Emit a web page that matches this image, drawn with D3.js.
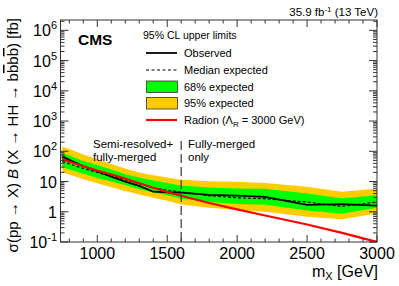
<!DOCTYPE html>
<html><head><meta charset="utf-8">
<script src="https://cdn.jsdelivr.net/npm/d3@7"></script>
<style>
body{margin:0;background:#fff;}
svg{font-family:"Liberation Sans",Arial,Helvetica,sans-serif;}
</style></head>
<body><svg id="c" width="399" height="286"></svg>
<script>
const mass     = [750, 800, 900, 1000, 1100, 1200, 1300, 1400, 1500, 1600, 1800, 2000, 2200, 2500, 2750, 3000];
const observed = [68, 52, 32, 22, 14.5, 10, 7.2, 4.6, 4.4, 4.3, 3.6, 3.4, 3.1, 1.7, 1.8, 1.6];
const expected = [46, 38, 27, 20, 15, 11.5, 8.5, 6.2, 5.2, 4.5, 3.4, 2.9, 2.7, 2.1, 1.5, 2.1];
const band68Up = [88, 72, 48, 35, 25, 17.5, 13.5, 10.8, 9, 7.4, 6.3, 5.9, 5.8, 4.0, 2.8, 3.5];
const band68Dn = [30, 25, 18, 13, 10, 7.6, 5.6, 4.4, 3.5, 2.7, 2.1, 1.8, 1.7, 1.1, 0.86, 1.35];
const band95Up = [145, 118, 78, 55, 38, 27, 20, 16, 13.5, 11.5, 10.3, 9.8, 9.0, 6.7, 4.6, 5.9];
const band95Dn = [20, 17, 12, 8.7, 6.5, 4.9, 3.7, 2.9, 2.3, 1.75, 1.35, 1.14, 1.0, 0.68, 0.57, 0.88];
const radion   = [55, 45, 32, 23, 17, 12.5, 8.8, 6.2, 4.5, 3.4, 1.95, 1.2, 0.75, 0.38, 0.2, 0.1];
const xTicks = [1000, 1500, 2000, 2500, 3000];
const yTickExp = [-1, 0, 1, 2, 3, 4, 5, 6];
const splitMass = 1600;

const L = 60.5, R = 377, T = 20, B = 242;
const svg = d3.select("#c");
const x = d3.scaleLinear().domain([737, 3000]).range([L, R]);
const y = d3.scaleLog().domain([0.1, 2.2e6]).range([B, T]);

svg.append("clipPath").attr("id","cp").append("rect")
  .attr("x",L).attr("y",T).attr("width",R-L).attr("height",B-T);
const plot = svg.append("g").attr("clip-path","url(#cp)");

const idx = d3.range(mass.length);
const area = (up, dn) => d3.area().x(i=>x(mass[i])).y0(i=>y(dn[i])).y1(i=>y(up[i]))(idx);
const line = (arr) => d3.line().x(i=>x(mass[i])).y(i=>y(arr[i]))(idx);

plot.append("path").attr("d", area(band95Up, band95Dn)).attr("fill","#ffcc00");
plot.append("path").attr("d", area(band68Up, band68Dn)).attr("fill","#00ff00");
plot.append("path").attr("d", line(expected)).attr("fill","none").attr("stroke","#000")
  .attr("stroke-width",1.2).attr("stroke-dasharray","3,2");
plot.append("path").attr("d", line(observed)).attr("fill","none").attr("stroke","#000").attr("stroke-width",1.8);
plot.append("path").attr("d", line(radion)).attr("fill","none").attr("stroke","#ff0000").attr("stroke-width",2.2);

// vertical split line
svg.append("line").attr("x1",x(splitMass)).attr("x2",x(splitMass)).attr("y1",141).attr("y2",B)
  .attr("stroke","#444").attr("stroke-width",1.3).attr("stroke-dasharray","9,4");

// frame
svg.append("rect").attr("x",L).attr("y",T).attr("width",R-L).attr("height",B-T)
  .attr("fill","none").attr("stroke","#333").attr("stroke-width",1);

// x ticks
const tk = svg.append("g").attr("stroke","#333").attr("stroke-width",1);
for (let m = 800; m <= 3000; m += 100) {
  const major = m % 500 === 0;
  const len = major ? 7 : 3.5;
  const xp = x(m);
  tk.append("line").attr("x1",xp).attr("x2",xp).attr("y1",B).attr("y2",B-len);
  tk.append("line").attr("x1",xp).attr("x2",xp).attr("y1",T).attr("y2",T+len);
}
// y ticks
for (let e = -1; e <= 6; e++) {
  for (let k = 1; k <= 9; k++) {
    const v = k * Math.pow(10, e);
    if (v < 0.1 || v > 2.2e6) continue;
    const yp = y(v);
    const len = k === 1 ? 8 : 4;
    tk.append("line").attr("x1",L).attr("x2",L+len).attr("y1",yp).attr("y2",yp);
    tk.append("line").attr("x1",R).attr("x2",R-len).attr("y1",yp).attr("y2",yp);
  }
}

// x tick labels
svg.append("g").selectAll("text").data(xTicks).join("text")
  .attr("x", d=>x(d)).attr("y", 259).attr("text-anchor","middle")
  .attr("font-size",16).attr("fill","#000").text(d=>d);

// y tick labels
const yl = svg.append("g");
yTickExp.forEach(e => {
  const t = yl.append("text").attr("x",57).attr("y",y(Math.pow(10,e))+6)
    .attr("text-anchor","end").attr("font-size",16).attr("fill","#000");
  if (e === 0) t.text("1");
  else if (e === 1) t.text("10");
  else {
    t.append("tspan").text("10");
    t.append("tspan").attr("font-size",11).attr("dy",-7).text(e);
  }
});

// axis titles
const yt = svg.append("text").attr("transform","translate(18,18) rotate(-90)")
  .attr("text-anchor","end").attr("font-size",15).attr("fill","#000");
yt.append("tspan").text("σ(pp → X) ");
yt.append("tspan").attr("font-style","italic").text("B");
yt.append("tspan").text(" (X → HH → b");
yt.append("tspan").attr("text-decoration","overline").text("b");
yt.append("tspan").text("b");
yt.append("tspan").attr("text-decoration","overline").text("b");
yt.append("tspan").text(") [fb]");

const xt = svg.append("text").attr("x",378).attr("y",277).attr("text-anchor","end")
  .attr("font-size",16).attr("fill","#000");
xt.append("tspan").text("m");
xt.append("tspan").attr("font-size",11).attr("dy",3).text("X");
xt.append("tspan").attr("dy",-3).text(" [GeV]");

// header
const hd = svg.append("text").attr("x",378).attr("y",16).attr("text-anchor","end")
  .attr("font-size",11.5).attr("fill","#000");
hd.append("tspan").text("35.9 fb");
hd.append("tspan").attr("font-size",8).attr("dy",-4).text("-1");
hd.append("tspan").attr("dy",4).text(" (13 TeV)");

svg.append("text").attr("x",78).attr("y",45).attr("font-size",15.5).attr("font-weight","bold").text("CMS");

// legend
const lg = svg.append("g").attr("font-size",11).attr("fill","#000");
lg.append("text").attr("x",143).attr("y",39).attr("font-size",10.5).text("95% CL upper limits");
const rows = [53, 70, 87, 103, 120];
lg.append("line").attr("x1",146).attr("x2",177).attr("y1",rows[0]).attr("y2",rows[0]).attr("stroke","#000").attr("stroke-width",1.8);
lg.append("line").attr("x1",146).attr("x2",177).attr("y1",rows[1]).attr("y2",rows[1]).attr("stroke","#000").attr("stroke-width",1.2).attr("stroke-dasharray","3,2.5");
lg.append("rect").attr("x",146.5).attr("y",81).attr("width",31).attr("height",11.5).attr("fill","#00ff00").attr("stroke","#333").attr("stroke-width",0.8);
lg.append("rect").attr("x",146.5).attr("y",97.5).attr("width",31).attr("height",11.5).attr("fill","#ffcc00").attr("stroke","#333").attr("stroke-width",0.8);
lg.append("line").attr("x1",146).attr("x2",177).attr("y1",rows[4]).attr("y2",rows[4]).attr("stroke","#ff0000").attr("stroke-width",2.2);
const labels = ["Observed","Median expected","68% expected","95% expected"];
labels.forEach((s,i)=>lg.append("text").attr("x",184).attr("y",rows[i]+4).text(s));
const rt = lg.append("text").attr("x",184).attr("y",rows[4]+4);
rt.append("tspan").text("Radion (Λ");
rt.append("tspan").attr("font-size",8).attr("dy",3).text("R");
rt.append("tspan").attr("dy",-3).text(" = 3000 GeV)");

// region labels
const rg = svg.append("g").attr("font-size",11.5).attr("fill","#000");
rg.append("text").attr("x",93).attr("y",148).text("Semi-resolved+");
rg.append("text").attr("x",93).attr("y",161).text("fully-merged");
rg.append("text").attr("x",188).attr("y",148).text("Fully-merged");
rg.append("text").attr("x",188).attr("y",161).text("only");
</script></body></html>
